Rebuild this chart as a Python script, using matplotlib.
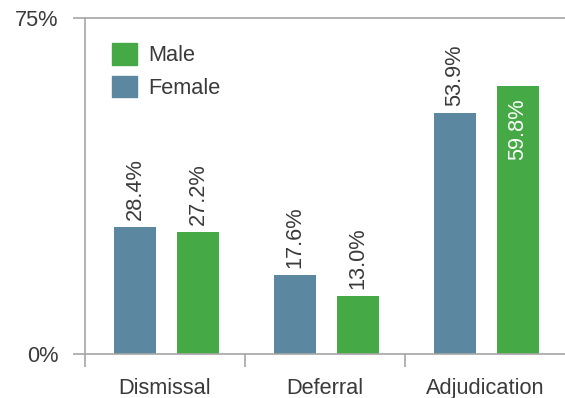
import matplotlib
matplotlib.use("Agg")
import matplotlib.pyplot as plt
import numpy as np
from matplotlib.patches import Patch

categories = ["Dismissal", "Deferral", "Adjudication"]
female = [28.4, 17.6, 53.9]
male = [27.2, 13.0, 59.8]

FEMALE_COLOR = "#5b87a1"
MALE_COLOR = "#45aa45"
LINE_COLOR = "#a6a6a6"
TEXT_COLOR = "#3a3a3a"

plt.rcParams["font.family"] = ["Liberation Sans", "DejaVu Sans"]
plt.rcParams["font.size"] = 15.7

fig = plt.figure(figsize=(5.65, 3.98), dpi=100)
ax = fig.add_axes([85 / 565, 44 / 398, 480 / 565, 336 / 398])

x = np.arange(len(categories)) + 0.01
width = 0.265
off = 0.197
b_f = ax.bar(x - off, female, width, color=FEMALE_COLOR)
b_m = ax.bar(x + off, male, width, color=MALE_COLOR)

ax.set_xlim(-0.5, 2.5)
ax.set_ylim(0, 75)

# value labels, rotated; the tallest bar gets its label inside
for bars, vals in ((b_f, female), (b_m, male)):
    for rect, v in zip(bars, vals):
        cx = rect.get_x() + rect.get_width() / 2
        if v == max(male + female):
            ax.annotate(f"{v:.1f}%", (cx, v), xytext=(0, -9),
                        textcoords="offset points", rotation=90,
                        ha="center", va="top", color="white")
        else:
            ax.annotate(f"{v:.1f}%", (cx, v), xytext=(0, 5),
                        textcoords="offset points", rotation=90,
                        ha="center", va="bottom", color=TEXT_COLOR)

# axis lines
ax.spines["right"].set_visible(False)
for side in ("left", "top", "bottom"):
    ax.spines[side].set_color(LINE_COLOR)
    ax.spines[side].set_linewidth(1.2)

ax.set_yticks([0, 75])
ax.set_yticklabels(["0%", "75%"])
ax.tick_params(axis="y", length=9, width=1.2, color=LINE_COLOR,
               colors=TEXT_COLOR, pad=10)

# category boundaries as ticks, names in between
ax.set_xticks([-0.5, 0.5, 1.5])
ax.set_xticklabels([])
ax.set_xticks(np.arange(len(categories)), minor=True)
ax.set_xticklabels(categories, minor=True)
ax.tick_params(axis="x", which="major", length=9, width=1.2, color=LINE_COLOR)
ax.tick_params(axis="x", which="minor", length=0, pad=17, colors=TEXT_COLOR)

handles = [Patch(color=MALE_COLOR, label="Male"),
           Patch(color=FEMALE_COLOR, label="Female")]
leg = ax.legend(handles=handles, loc="upper left", frameon=False,
                bbox_to_anchor=(0.056, 0.925), borderpad=0,
                handlelength=1.15, handleheight=1.15, handletextpad=0.5,
                labelspacing=0.42, borderaxespad=0)
for t in leg.get_texts():
    t.set_color(TEXT_COLOR)

fig.savefig("out.png", dpi=100)
